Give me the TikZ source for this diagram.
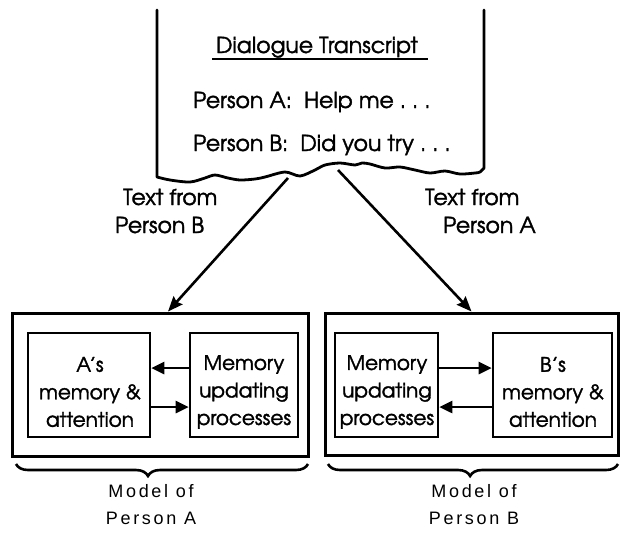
\documentclass[tikz,border=0pt]{standalone}
\usepackage{fontspec}
\setmainfont{TeX Gyre Adventor}[FakeBold=1.6]
\newfontfamily\capfont[LetterSpace=15]{Liberation Sans}
\usetikzlibrary{arrows.meta,decorations.pathreplacing}
\begin{document}
\begin{tikzpicture}[x=1pt,y=-1pt,
  ink/.style={line width=2.8pt, line join=round, line cap=round},
  outerbox/.style={draw, line width=3pt, inner sep=0pt},
  innerbox/.style={draw, line width=2.6pt, inner sep=0pt, minimum height=104pt},
  boxtext/.style={align=center, inner sep=0pt, font=\fontsize{20}{27.5}\selectfont},
  bigtext/.style={font=\fontsize{22}{28}\selectfont, inner sep=0pt},
  feedarrow/.style={line width=2.6pt, -{Stealth[length=15pt,width=12pt,inset=2pt]}},
  linkarrow/.style={line width=2.6pt, -{Triangle[length=13pt,width=12pt]}},
  bracket/.style={line width=2.6pt, decorate,
    decoration={brace, mirror, amplitude=12pt, aspect=#1}},
  caption/.style={font=\capfont\fontsize{18}{27}\selectfont, inner sep=0pt, align=center}]
\useasboundingbox (0,0) rectangle (620,550);

% torn sheet with the transcript
\draw[ink] (157,10) -- plot[smooth, tension=0.5] coordinates {
  (157,177) (170,180) (190,182) (205,178) (215,175) (228,178) (240,180)
  (255,179) (265,177) (285,172) (300,176) (315,170) (325,165) (340,163)
  (355,165) (362,163) (370,164) (385,168) (400,167) (415,170) (430,173)
  (445,171) (460,174) (475,173) (480,172) (484,168)} -- (484,10);

\node[bigtext, anchor=base] (title) at (317,53) {Dialogue Transcript};
\draw[line width=1.6pt] (212,59) -- (428,59);
\node[bigtext, anchor=base west] (lineA) at (193,108) {Person A:\ \ Help me .\ .\ .};
\node[bigtext, anchor=base west] (lineB) at (193,151) {Person B:\ \ Did you try .\ .\ .};

\coordinate (tearL) at (288,178);
\coordinate (tearR) at (338,170);

% model of person A
\node[outerbox, minimum width=296pt, minimum height=143pt] (outerA) at (160,384.5) {};
\node[innerbox, minimum width=122pt] (memA) at (89,385) {};
\node[innerbox, minimum width=108pt] (updA) at (244,385) {};
\node[boxtext] (memAtext) at (90,392) {A's\\memory \&\\attention};
\node[boxtext] (updAtext) at (244,392) {Memory\\updating\\processes};
\draw[linkarrow] ([yshift=17pt]updA.west) -- ([yshift=17pt]memA.east);
\draw[linkarrow] ([yshift=-22pt]memA.east) -- ([yshift=-22pt]updA.west);

% model of person B
\node[outerbox, minimum width=293pt, minimum height=142pt] (outerB) at (471.5,384) {};
\node[innerbox, minimum width=103pt] (updB) at (386.5,385) {};
\node[innerbox, minimum width=119pt] (memB) at (552.5,385) {};
\node[boxtext] (updBtext) at (387,392) {Memory\\updating\\processes};
\node[boxtext] (memBtext) at (553,392) {B's\\memory \&\\attention};
\draw[linkarrow] ([yshift=17pt]updB.east) -- ([yshift=17pt]memB.west);
\draw[linkarrow] ([yshift=-22pt]memB.west) -- ([yshift=-22pt]updB.east);

% text passed from the transcript to each model
\draw[feedarrow] (tearL) -- ([xshift=8pt]outerA.north);
\draw[feedarrow] (tearR) -- (outerB.north);
\node[bigtext, anchor=base west, align=left] (fromB) at (115,233)
  {\hspace*{8pt}Text from\\Person B};
\node[bigtext, anchor=base west, align=left] (fromA) at (425,233)
  {Text from\\\hspace*{18pt}Person A};

% braces and captions
\draw[bracket=0.452] (16,464) -- (308,464);
\draw[bracket=0.49] (328,464) -- (618,464);
\node[caption, anchor=base] (capA) at (151,524) {Model of\\Person A};
\node[caption, anchor=base] (capB) at (474,524) {Model of\\Person B};
\end{tikzpicture}
\end{document}
